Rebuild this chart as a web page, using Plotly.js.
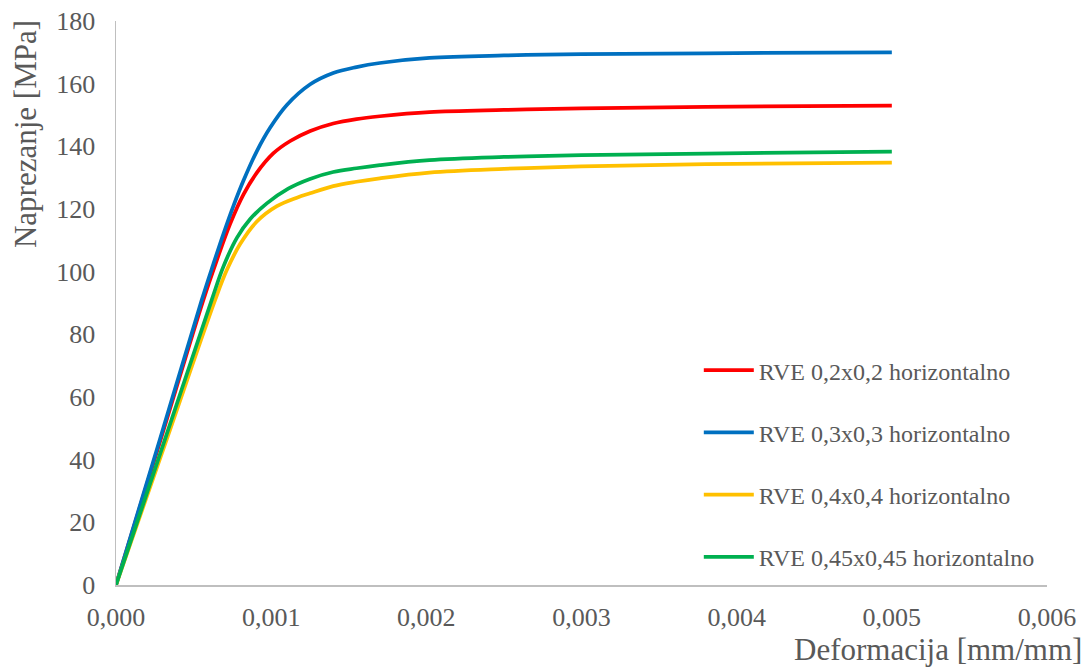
<!DOCTYPE html>
<html>
<head>
<meta charset="utf-8">
<script src="https://cdn.plot.ly/plotly-3.0.1.min.js"></script>
<style>html,body{margin:0;padding:0;background:#fff;}#chart{width:1087px;height:667px;}</style>
</head>
<body>
<div id="chart"></div>
<script>
// Series names
const seriesNames = [
  "RVE 0,2x0,2 horizontalno",
  "RVE 0,3x0,3 horizontalno",
  "RVE 0,4x0,4 horizontalno",
  "RVE 0,45x0,45 horizontalno"
];
const seriesColors = ["#FF0000", "#0070C0", "#FFC000", "#00B050"];

// Strain [mm/mm] and stress [MPa] per series
const strain02 = [0, 0.000282, 0.000563, 0.00065, 0.000735, 0.000821, 0.000908, 0.001015, 0.001123, 0.001252, 0.0014, 0.00155, 0.0017, 0.00202, 0.0025, 0.003, 0.0038, 0.005];
const stress02 = [0, 45.5, 91.0, 103.7, 115.2, 124.6, 131.6, 137.8, 141.7, 144.9, 147.3, 148.7, 149.6, 150.9, 151.6, 152.1, 152.6, 153.0];

const strain03 = [0, 0.000277, 0.000553, 0.000628, 0.000692, 0.000757, 0.000821, 0.000908, 0.000994, 0.001101, 0.001252, 0.0014, 0.00155, 0.0017, 0.00202, 0.0025, 0.003, 0.0038, 0.005];
const stress03 = [0, 45.5, 91.0, 102.5, 112.0, 121.0, 129.0, 138.5, 146.0, 153.2, 159.8, 163.4, 165.3, 166.6, 168.2, 169.0, 169.4, 169.7, 170.0];

const strain04 = [0, 0.00032, 0.000639, 0.000714, 0.0008, 0.000908, 0.001037, 0.001166, 0.00125, 0.0014, 0.00155, 0.0017, 0.00202, 0.0025, 0.003, 0.0038, 0.005];
const stress04 = [0, 45.5, 91.0, 100.5, 108.8, 116.0, 120.9, 123.6, 125.0, 127.3, 128.7, 129.8, 131.6, 132.8, 133.6, 134.3, 134.8];

const strain045 = [0, 0.000309, 0.000617, 0.000692, 0.000779, 0.000865, 0.000972, 0.00111, 0.00125, 0.0014, 0.00155, 0.0017, 0.00202, 0.0025, 0.003, 0.0038, 0.005];
const stress045 = [0, 45.5, 91.0, 101.6, 110.8, 116.8, 121.8, 126.5, 129.6, 131.8, 133.0, 134.0, 135.6, 136.6, 137.2, 137.7, 138.3];

const xs = [strain02, strain03, strain04, strain045];
const ys = [stress02, stress03, stress04, stress045];

const FONT = "Liberation Serif, Times New Roman, serif";
const TXT = "#595959";

const traces = seriesNames.map((name, i) => ({
  type: "scatter",
  mode: "lines",
  name: name,
  x: xs[i],
  y: ys[i],
  legendgroup: "g" + i,
  line: { color: seriesColors[i], width: 3.75, shape: "spline", smoothing: 1.0 },
  hoverinfo: "skip"
}));

const layout = {
  width: 1087,
  height: 667,
  paper_bgcolor: "#ffffff",
  plot_bgcolor: "#ffffff",
  separators: ", ",
  margin: { l: 116, r: 40, t: 21, b: 82 },
  font: { family: FONT, color: TXT, size: 24 },
  showlegend: true,
  legend: {
    x: 0.626, xanchor: "left",
    y: 0.42, yanchor: "top",
    traceorder: "grouped",
    tracegroupgap: 28,
    font: { family: FONT, color: TXT, size: 24 },
    bgcolor: "rgba(0,0,0,0)",
    itemwidth: 50
  },
  xaxis: {
    range: [0, 0.006],
    dtick: 0.001,
    tick0: 0,
    tickformat: ".3f",
    showgrid: false,
    zeroline: false,
    showline: true,
    linecolor: "#BFBFBF",
    linewidth: 1.5,
    ticks: "",
    ticklabelstandoff: 8,
    tickfont: { family: FONT, color: TXT, size: 26 },
    fixedrange: true
  },
  yaxis: {
    range: [0, 180],
    dtick: 20,
    tick0: 0,
    showgrid: false,
    zeroline: false,
    showline: true,
    linecolor: "#BFBFBF",
    linewidth: 1.5,
    ticks: "",
    ticklabelstandoff: 14,
    tickfont: { family: FONT, color: TXT, size: 26 },
    fixedrange: true
  },
  annotations: [
    {
      text: "Deformacija [mm/mm]",
      xref: "paper", yref: "paper",
      x: 1.0398, xanchor: "right",
      y: -0.1152, yanchor: "middle",
      showarrow: false,
      font: { family: FONT, color: TXT, size: 31 }
    },
    {
      text: "Naprezanje [MPa]",
      xref: "paper", yref: "paper",
      x: 0, xshift: -91, xanchor: "center",
      y: 0.7996, yanchor: "middle",
      textangle: -90,
      showarrow: false,
      font: { family: FONT, color: TXT, size: 31 }
    }
  ]
};

Plotly.newPlot("chart", traces, layout, { displayModeBar: false, staticPlot: true });
</script>
</body>
</html>
